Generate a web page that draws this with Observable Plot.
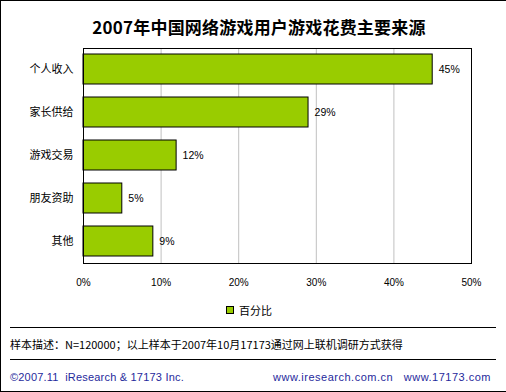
<!DOCTYPE html>
<html>
<head>
<meta charset="utf-8">
<script src="https://cdn.jsdelivr.net/npm/d3@7"></script>
<script src="https://cdn.jsdelivr.net/npm/@observablehq/plot@0.6"></script>
<style>
  html, body { margin: 0; padding: 0; background: #fff; }
  #wrap { position: relative; width: 506px; height: 392px; box-sizing: border-box;
          border-top: 1px solid #000; border-left: 1px solid #000; border-bottom: 1px solid #000;
          overflow: hidden; font-family: "Liberation Sans", "Noto Sans CJK SC", sans-serif; }
  #chart { position: absolute; left: -1px; top: -1px; }
  .abs { position: absolute; white-space: nowrap; }
  #title { left: 0; width: 516px; top: 13px; text-align: center; font: bold 17px "Noto Sans CJK SC", sans-serif; letter-spacing: 0.2px; color: #000; }
  #legend { left: 225px; top: 301px; font: 11px "Noto Sans CJK SC", sans-serif; display: flex; align-items: center; }
  #legend span.sw { display: inline-block; width: 6px; height: 6px; background: #99cc00; border: 1px solid #000; margin-right: 5px; }
  .hr { position: absolute; left: 9px; width: 486px; height: 0; border-top: 1px solid #000; }
  #caption { left: 9px; top: 335px; font: 11px "Noto Sans CJK SC", sans-serif; color: #000; }
  .foot { top: 370px; font: 11px "Liberation Sans", sans-serif; color: #1f2a9c; }
</style>
</head>
<body>
<div id="wrap">
  <div id="chart"></div>
  <div id="title" class="abs">2007年中国网络游戏用户游戏花费主要来源</div>
  <div id="legend" class="abs"><span class="sw"></span>百分比</div>
  <div class="hr" style="top:326px"></div>
  <div id="caption" class="abs">样本描述：N=120000；以上样本于2007年10月17173通过网上联机调研方式获得</div>
  <div class="hr" style="top:358px"></div>
  <div class="abs foot" style="left:9px; letter-spacing:0.2px">©2007.11&nbsp; iResearch &amp; 17173 Inc.</div>
  <div class="abs foot" style="right:15px; letter-spacing:0.5px">www.iresearch.com.cn&nbsp;&nbsp; www.17173.com</div>
</div>
<script>
const categories = ["个人收入", "家长供给", "游戏交易", "朋友资助", "其他"];
const values = [45, 29, 12, 5, 9];
const xTicks = [0, 10, 20, 30, 40, 50];
const gridTicks = [10, 20, 30, 40];

const data = categories.map((c, i) => ({category: c, value: values[i]}));

const chart = Plot.plot({
  width: 506,
  height: 300,
  marginTop: 48,
  marginBottom: 37,
  marginLeft: 83,
  marginRight: 35,
  style: {fontFamily: "Liberation Sans, sans-serif", fontSize: "10px", color: "#000", background: "transparent"},
  x: {domain: [0, 50], ticks: xTicks, tickFormat: d => d + "%", label: null, tickSize: 0, tickPadding: 15},
  y: {domain: categories, label: null, tickSize: 0, tickPadding: 10, paddingInner: 0.3, paddingOuter: 0.15},
  marks: [
    Plot.ruleX(gridTicks, {stroke: "#c0c0c0", strokeWidth: 1}),
    Plot.barX(data, {y: "category", x: "value", fill: "#99cc00", stroke: "#000", strokeWidth: 1}),
    Plot.text(data, {y: "category", x: "value", text: d => d.value + "%", textAnchor: "start", dx: 6, fontSize: 10.5, fill: "#000"}),
    Plot.frame({stroke: "#000", strokeWidth: 1}),
    Plot.axisY({tickSize: 0, tickPadding: 10, fontSize: 11, fontFamily: "Noto Sans CJK SC, sans-serif", label: null}),
    Plot.axisX({ticks: xTicks, tickFormat: d => d + "%", tickSize: 0, tickPadding: 15, label: null})
  ]
});
document.getElementById("chart").appendChild(chart);
</script>
</body>
</html>
